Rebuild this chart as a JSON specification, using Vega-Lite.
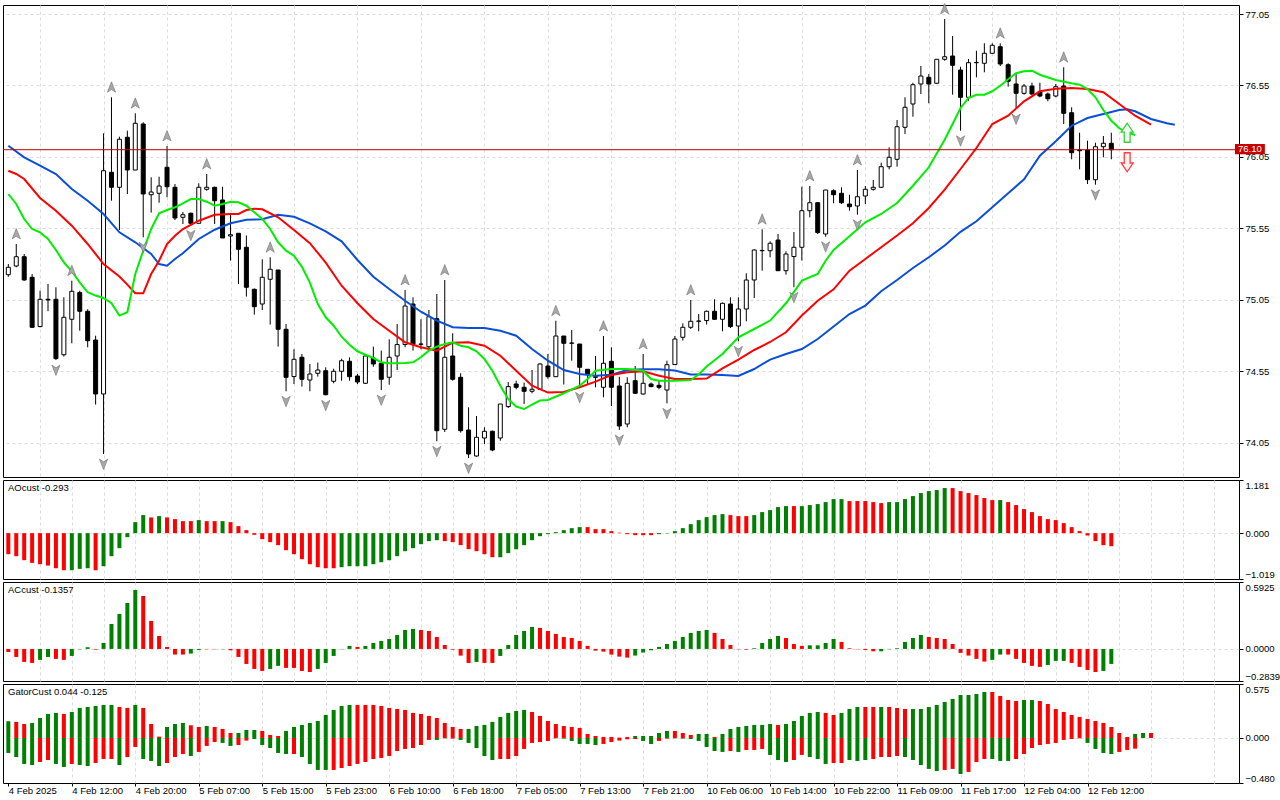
{
  "$schema": "https://vega.github.io/schema/vega-lite/v6.json",
  "padding": {"left": 2, "top": 1, "right": 0, "bottom": 0},
  "background": "white",
  "spacing": 3,
  "bounds": "flush",
  "config": {
    "view": {"stroke": "black", "strokeWidth": 1},
    "font": "Liberation Sans",
    "axis": {"labelFont": "Liberation Sans", "labelFontSize": 9.5, "labelColor": "black", "tickColor": "black", "domain": false, "gridColor": "#dcdcdc", "gridDash": [3, 3], "gridWidth": 1},
    "title": {"font": "Liberation Sans", "fontSize": 9.5, "fontWeight": "normal", "color": "black"}
  },
  "datasets": {
    "candles": [
      {"i":0,"o":75.225,"h":75.30,"l":75.21,"c":75.277},
      {"i":1,"o":75.286,"h":75.44,"l":75.277,"c":75.351},
      {"i":2,"o":75.351,"h":75.37,"l":75.183,"c":75.188},
      {"i":3,"o":75.207,"h":75.23,"l":74.852,"c":74.857},
      {"i":4,"o":74.862,"h":75.113,"l":74.857,"c":75.053},
      {"i":5,"o":75.053,"h":75.16,"l":74.97,"c":75.048},
      {"i":6,"o":75.053,"h":75.137,"l":74.628,"c":74.638},
      {"i":7,"o":74.665,"h":75.067,"l":74.652,"c":74.927},
      {"i":8,"o":74.913,"h":75.183,"l":74.745,"c":75.109},
      {"i":9,"o":75.10,"h":75.113,"l":74.833,"c":74.969},
      {"i":10,"o":74.969,"h":74.983,"l":74.717,"c":74.763},
      {"i":11,"o":74.768,"h":74.798,"l":74.316,"c":74.39},
      {"i":12,"o":74.39,"h":76.215,"l":73.97,"c":75.953},
      {"i":13,"o":75.942,"h":76.467,"l":75.743,"c":75.837},
      {"i":14,"o":75.837,"h":76.191,"l":75.538,"c":76.173},
      {"i":15,"o":76.187,"h":76.233,"l":75.79,"c":75.958},
      {"i":16,"o":75.958,"h":76.355,"l":75.958,"c":76.285},
      {"i":17,"o":76.28,"h":76.292,"l":75.487,"c":75.79},
      {"i":18,"o":75.785,"h":75.907,"l":75.66,"c":75.804},
      {"i":19,"o":75.795,"h":75.911,"l":75.729,"c":75.846},
      {"i":20,"o":75.977,"h":76.126,"l":75.767,"c":75.841},
      {"i":21,"o":75.837,"h":75.86,"l":75.608,"c":75.622},
      {"i":22,"o":75.627,"h":75.664,"l":75.58,"c":75.645},
      {"i":23,"o":75.655,"h":75.66,"l":75.571,"c":75.585},
      {"i":24,"o":75.585,"h":75.865,"l":75.585,"c":75.837},
      {"i":25,"o":75.823,"h":75.93,"l":75.813,"c":75.837},
      {"i":26,"o":75.837,"h":75.841,"l":75.58,"c":75.743},
      {"i":27,"o":75.748,"h":75.841,"l":75.482,"c":75.482},
      {"i":28,"o":75.496,"h":75.65,"l":75.324,"c":75.505},
      {"i":29,"o":75.515,"h":75.515,"l":75.16,"c":75.403},
      {"i":30,"o":75.417,"h":75.50,"l":75.072,"c":75.137},
      {"i":31,"o":75.123,"h":75.128,"l":74.946,"c":75.001},
      {"i":32,"o":75.02,"h":75.333,"l":74.978,"c":75.207},
      {"i":33,"o":75.193,"h":75.347,"l":74.876,"c":75.263},
      {"i":34,"o":75.258,"h":75.258,"l":74.722,"c":74.843},
      {"i":35,"o":74.843,"h":74.88,"l":74.409,"c":74.507},
      {"i":36,"o":74.512,"h":74.703,"l":74.46,"c":74.633},
      {"i":37,"o":74.647,"h":74.67,"l":74.442,"c":74.493},
      {"i":38,"o":74.488,"h":74.60,"l":74.409,"c":74.53},
      {"i":39,"o":74.535,"h":74.61,"l":74.512,"c":74.558},
      {"i":40,"o":74.553,"h":74.577,"l":74.381,"c":74.385},
      {"i":41,"o":74.479,"h":74.567,"l":74.465,"c":74.549},
      {"i":42,"o":74.549,"h":74.637,"l":74.483,"c":74.623},
      {"i":43,"o":74.619,"h":74.647,"l":74.483,"c":74.511},
      {"i":44,"o":74.516,"h":74.53,"l":74.46,"c":74.474},
      {"i":45,"o":74.465,"h":74.67,"l":74.46,"c":74.656},
      {"i":46,"o":74.642,"h":74.721,"l":74.581,"c":74.60},
      {"i":47,"o":74.605,"h":74.694,"l":74.418,"c":74.493},
      {"i":48,"o":74.507,"h":74.773,"l":74.455,"c":74.647},
      {"i":49,"o":74.656,"h":74.88,"l":74.558,"c":74.736},
      {"i":50,"o":74.736,"h":75.118,"l":74.717,"c":75.006},
      {"i":51,"o":75.02,"h":75.067,"l":74.694,"c":74.736},
      {"i":52,"o":74.74,"h":74.913,"l":74.703,"c":74.738},
      {"i":53,"o":74.721,"h":74.978,"l":74.698,"c":74.931},
      {"i":54,"o":74.917,"h":75.09,"l":74.059,"c":74.133},
      {"i":55,"o":74.143,"h":75.188,"l":74.124,"c":74.647},
      {"i":56,"o":74.656,"h":74.815,"l":74.483,"c":74.493},
      {"i":57,"o":74.507,"h":74.535,"l":74.12,"c":74.133},
      {"i":58,"o":74.138,"h":74.297,"l":73.942,"c":73.97},
      {"i":59,"o":73.956,"h":74.236,"l":73.951,"c":74.087},
      {"i":60,"o":74.082,"h":74.157,"l":74.04,"c":74.129},
      {"i":61,"o":74.129,"h":74.134,"l":73.989,"c":73.998},
      {"i":62,"o":74.082,"h":74.32,"l":74.063,"c":74.32},
      {"i":63,"o":74.302,"h":74.474,"l":74.292,"c":74.442},
      {"i":64,"o":74.46,"h":74.483,"l":74.423,"c":74.437},
      {"i":65,"o":74.437,"h":74.47,"l":74.32,"c":74.409},
      {"i":66,"o":74.409,"h":74.558,"l":74.395,"c":74.423},
      {"i":67,"o":74.423,"h":74.605,"l":74.423,"c":74.60},
      {"i":68,"o":74.586,"h":74.67,"l":74.497,"c":74.511},
      {"i":69,"o":74.511,"h":74.903,"l":74.511,"c":74.796},
      {"i":70,"o":74.796,"h":74.796,"l":74.456,"c":74.745},
      {"i":71,"o":74.745,"h":74.838,"l":74.623,"c":74.747},
      {"i":72,"o":74.74,"h":74.74,"l":74.437,"c":74.577},
      {"i":73,"o":74.563,"h":74.563,"l":74.46,"c":74.53},
      {"i":74,"o":74.511,"h":74.656,"l":74.437,"c":74.507},
      {"i":75,"o":74.437,"h":74.796,"l":74.367,"c":74.605},
      {"i":76,"o":74.619,"h":74.717,"l":74.306,"c":74.437},
      {"i":77,"o":74.446,"h":74.511,"l":74.138,"c":74.166},
      {"i":78,"o":74.18,"h":74.507,"l":74.157,"c":74.465},
      {"i":79,"o":74.483,"h":74.586,"l":74.39,"c":74.395},
      {"i":80,"o":74.39,"h":74.67,"l":74.385,"c":74.465},
      {"i":81,"o":74.46,"h":74.47,"l":74.437,"c":74.442},
      {"i":82,"o":74.451,"h":74.483,"l":74.423,"c":74.437},
      {"i":83,"o":74.418,"h":74.623,"l":74.325,"c":74.595},
      {"i":84,"o":74.596,"h":74.796,"l":74.596,"c":74.775},
      {"i":85,"o":74.787,"h":74.885,"l":74.764,"c":74.857},
      {"i":86,"o":74.857,"h":75.048,"l":74.845,"c":74.899},
      {"i":87,"o":74.899,"h":74.95,"l":74.829,"c":74.901},
      {"i":88,"o":74.904,"h":74.974,"l":74.876,"c":74.969},
      {"i":89,"o":74.969,"h":75.053,"l":74.908,"c":74.913},
      {"i":90,"o":74.913,"h":75.03,"l":74.829,"c":75.025},
      {"i":91,"o":75.02,"h":75.067,"l":74.852,"c":74.862},
      {"i":92,"o":74.866,"h":75.067,"l":74.759,"c":74.985},
      {"i":93,"o":74.985,"h":75.235,"l":74.899,"c":75.188},
      {"i":94,"o":75.188,"h":75.403,"l":75.062,"c":75.398},
      {"i":95,"o":75.393,"h":75.543,"l":75.253,"c":75.395},
      {"i":96,"o":75.393,"h":75.459,"l":75.347,"c":75.445},
      {"i":97,"o":75.468,"h":75.51,"l":75.253,"c":75.253},
      {"i":98,"o":75.253,"h":75.389,"l":75.225,"c":75.37},
      {"i":99,"o":75.352,"h":75.524,"l":75.137,"c":75.417},
      {"i":100,"o":75.417,"h":75.841,"l":75.324,"c":75.673},
      {"i":101,"o":75.673,"h":75.846,"l":75.627,"c":75.729},
      {"i":102,"o":75.729,"h":75.732,"l":75.51,"c":75.52},
      {"i":103,"o":75.51,"h":75.818,"l":75.491,"c":75.818},
      {"i":104,"o":75.813,"h":75.823,"l":75.725,"c":75.785},
      {"i":105,"o":75.795,"h":75.837,"l":75.72,"c":75.729},
      {"i":106,"o":75.72,"h":75.785,"l":75.673,"c":75.701},
      {"i":107,"o":75.706,"h":75.958,"l":75.645,"c":75.771},
      {"i":108,"o":75.776,"h":75.846,"l":75.72,"c":75.823},
      {"i":109,"o":75.823,"h":75.888,"l":75.813,"c":75.837},
      {"i":110,"o":75.837,"h":76.009,"l":75.832,"c":75.981},
      {"i":111,"o":75.981,"h":76.117,"l":75.963,"c":76.047},
      {"i":112,"o":76.033,"h":76.308,"l":75.981,"c":76.261},
      {"i":113,"o":76.257,"h":76.467,"l":76.21,"c":76.397},
      {"i":114,"o":76.42,"h":76.569,"l":76.331,"c":76.555},
      {"i":115,"o":76.56,"h":76.686,"l":76.49,"c":76.616},
      {"i":116,"o":76.607,"h":76.63,"l":76.425,"c":76.56},
      {"i":117,"o":76.565,"h":76.733,"l":76.56,"c":76.733},
      {"i":118,"o":76.733,"h":77.015,"l":76.723,"c":76.751},
      {"i":119,"o":76.756,"h":76.896,"l":76.485,"c":76.691},
      {"i":120,"o":76.658,"h":76.681,"l":76.233,"c":76.467},
      {"i":121,"o":76.467,"h":76.735,"l":76.443,"c":76.709},
      {"i":122,"o":76.709,"h":76.793,"l":76.607,"c":76.711},
      {"i":123,"o":76.705,"h":76.845,"l":76.642,"c":76.775},
      {"i":124,"o":76.775,"h":76.845,"l":76.77,"c":76.831},
      {"i":125,"o":76.821,"h":76.845,"l":76.686,"c":76.70},
      {"i":126,"o":76.695,"h":76.705,"l":76.541,"c":76.579},
      {"i":127,"o":76.56,"h":76.63,"l":76.385,"c":76.495},
      {"i":128,"o":76.495,"h":76.56,"l":76.485,"c":76.546},
      {"i":129,"o":76.546,"h":76.569,"l":76.481,"c":76.49},
      {"i":130,"o":76.504,"h":76.569,"l":76.467,"c":76.476},
      {"i":131,"o":76.49,"h":76.5,"l":76.439,"c":76.457},
      {"i":132,"o":76.476,"h":76.56,"l":76.467,"c":76.541},
      {"i":133,"o":76.546,"h":76.677,"l":76.28,"c":76.355},
      {"i":134,"o":76.359,"h":76.397,"l":76.033,"c":76.079},
      {"i":135,"o":76.098,"h":76.219,"l":75.963,"c":76.093},
      {"i":136,"o":76.098,"h":76.163,"l":75.86,"c":75.89},
      {"i":137,"o":75.89,"h":76.149,"l":75.855,"c":76.121},
      {"i":138,"o":76.121,"h":76.196,"l":76.047,"c":76.145},
      {"i":139,"o":76.145,"h":76.219,"l":76.033,"c":76.10}
    ],
    "lines": [
      {"i":0,"s":"jaw","v":76.128},{"i":2,"s":"jaw","v":76.047},{"i":4,"s":"jaw","v":75.988},{"i":6,"s":"jaw","v":75.93},{"i":8,"s":"jaw","v":75.825},{"i":10,"s":"jaw","v":75.743},{"i":12,"s":"jaw","v":75.65},{"i":14,"s":"jaw","v":75.522},{"i":16,"s":"jaw","v":75.452},{"i":18,"s":"jaw","v":75.37},{"i":19,"s":"jaw","v":75.30},{"i":20,"s":"jaw","v":75.288},{"i":21,"s":"jaw","v":75.335},{"i":22,"s":"jaw","v":75.375},{"i":24,"s":"jaw","v":75.475},{"i":26,"s":"jaw","v":75.54},{"i":28,"s":"jaw","v":75.585},{"i":30,"s":"jaw","v":75.61},{"i":32,"s":"jaw","v":75.613},{"i":34,"s":"jaw","v":75.645},{"i":36,"s":"jaw","v":75.631},{"i":38,"s":"jaw","v":75.585},{"i":40,"s":"jaw","v":75.529},{"i":42,"s":"jaw","v":75.459},{"i":44,"s":"jaw","v":75.328},{"i":46,"s":"jaw","v":75.211},{"i":48,"s":"jaw","v":75.125},{"i":50,"s":"jaw","v":75.043},{"i":52,"s":"jaw","v":74.966},{"i":54,"s":"jaw","v":74.903},{"i":56,"s":"jaw","v":74.857},{"i":58,"s":"jaw","v":74.852},{"i":60,"s":"jaw","v":74.852},{"i":62,"s":"jaw","v":74.833},{"i":64,"s":"jaw","v":74.798},{"i":66,"s":"jaw","v":74.705},{"i":68,"s":"jaw","v":74.623},{"i":70,"s":"jaw","v":74.558},{"i":72,"s":"jaw","v":74.53},{"i":74,"s":"jaw","v":74.518},{"i":76,"s":"jaw","v":74.525},{"i":78,"s":"jaw","v":74.558},{"i":80,"s":"jaw","v":74.563},{"i":82,"s":"jaw","v":74.563},{"i":84,"s":"jaw","v":74.555},{"i":86,"s":"jaw","v":74.526},{"i":88,"s":"jaw","v":74.526},{"i":90,"s":"jaw","v":74.523},{"i":92,"s":"jaw","v":74.516},{"i":94,"s":"jaw","v":74.565},{"i":96,"s":"jaw","v":74.631},{"i":98,"s":"jaw","v":74.67},{"i":100,"s":"jaw","v":74.705},{"i":102,"s":"jaw","v":74.775},{"i":104,"s":"jaw","v":74.862},{"i":106,"s":"jaw","v":74.95},{"i":108,"s":"jaw","v":75.009},{"i":110,"s":"jaw","v":75.109},{"i":112,"s":"jaw","v":75.188},{"i":114,"s":"jaw","v":75.272},{"i":116,"s":"jaw","v":75.347},{"i":118,"s":"jaw","v":75.43},{"i":120,"s":"jaw","v":75.525},{"i":122,"s":"jaw","v":75.599},{"i":124,"s":"jaw","v":75.697},{"i":126,"s":"jaw","v":75.795},{"i":128,"s":"jaw","v":75.893},{"i":130,"s":"jaw","v":76.058},{"i":132,"s":"jaw","v":76.159},{"i":134,"s":"jaw","v":76.268},{"i":136,"s":"jaw","v":76.322},{"i":138,"s":"jaw","v":76.35},{"i":140,"s":"jaw","v":76.378},{"i":141,"s":"jaw","v":76.383},{"i":142,"s":"jaw","v":76.369},{"i":144,"s":"jaw","v":76.315},{"i":146,"s":"jaw","v":76.285},{"i":147,"s":"jaw","v":76.275},
      {"i":0,"s":"teeth","v":75.953},{"i":1,"s":"teeth","v":75.93},{"i":2,"s":"teeth","v":75.895},{"i":4,"s":"teeth","v":75.762},{"i":6,"s":"teeth","v":75.673},{"i":8,"s":"teeth","v":75.568},{"i":10,"s":"teeth","v":75.44},{"i":12,"s":"teeth","v":75.30},{"i":14,"s":"teeth","v":75.212},{"i":15,"s":"teeth","v":75.156},{"i":16,"s":"teeth","v":75.095},{"i":17,"s":"teeth","v":75.095},{"i":18,"s":"teeth","v":75.23},{"i":19,"s":"teeth","v":75.323},{"i":20,"s":"teeth","v":75.44},{"i":21,"s":"teeth","v":75.498},{"i":22,"s":"teeth","v":75.545},{"i":24,"s":"teeth","v":75.603},{"i":26,"s":"teeth","v":75.645},{"i":28,"s":"teeth","v":75.65},{"i":29,"s":"teeth","v":75.65},{"i":30,"s":"teeth","v":75.678},{"i":31,"s":"teeth","v":75.687},{"i":32,"s":"teeth","v":75.683},{"i":34,"s":"teeth","v":75.627},{"i":36,"s":"teeth","v":75.538},{"i":38,"s":"teeth","v":75.446},{"i":40,"s":"teeth","v":75.31},{"i":42,"s":"teeth","v":75.148},{"i":44,"s":"teeth","v":75.025},{"i":46,"s":"teeth","v":74.915},{"i":48,"s":"teeth","v":74.833},{"i":50,"s":"teeth","v":74.752},{"i":52,"s":"teeth","v":74.717},{"i":54,"s":"teeth","v":74.693},{"i":56,"s":"teeth","v":74.749},{"i":58,"s":"teeth","v":74.752},{"i":60,"s":"teeth","v":74.728},{"i":62,"s":"teeth","v":74.658},{"i":64,"s":"teeth","v":74.553},{"i":66,"s":"teeth","v":74.448},{"i":68,"s":"teeth","v":74.40},{"i":70,"s":"teeth","v":74.404},{"i":72,"s":"teeth","v":74.437},{"i":74,"s":"teeth","v":74.477},{"i":76,"s":"teeth","v":74.523},{"i":78,"s":"teeth","v":74.542},{"i":80,"s":"teeth","v":74.549},{"i":82,"s":"teeth","v":74.518},{"i":84,"s":"teeth","v":74.495},{"i":86,"s":"teeth","v":74.495},{"i":88,"s":"teeth","v":74.498},{"i":90,"s":"teeth","v":74.57},{"i":92,"s":"teeth","v":74.631},{"i":94,"s":"teeth","v":74.698},{"i":96,"s":"teeth","v":74.754},{"i":98,"s":"teeth","v":74.822},{"i":100,"s":"teeth","v":74.939},{"i":102,"s":"teeth","v":75.043},{"i":104,"s":"teeth","v":75.123},{"i":106,"s":"teeth","v":75.253},{"i":108,"s":"teeth","v":75.335},{"i":110,"s":"teeth","v":75.417},{"i":112,"s":"teeth","v":75.499},{"i":114,"s":"teeth","v":75.585},{"i":116,"s":"teeth","v":75.692},{"i":118,"s":"teeth","v":75.82},{"i":120,"s":"teeth","v":75.965},{"i":122,"s":"teeth","v":76.112},{"i":124,"s":"teeth","v":76.28},{"i":126,"s":"teeth","v":76.338},{"i":128,"s":"teeth","v":76.439},{"i":130,"s":"teeth","v":76.509},{"i":132,"s":"teeth","v":76.527},{"i":134,"s":"teeth","v":76.532},{"i":136,"s":"teeth","v":76.525},{"i":138,"s":"teeth","v":76.502},{"i":140,"s":"teeth","v":76.42},{"i":142,"s":"teeth","v":76.338},{"i":144,"s":"teeth","v":76.275},
      {"i":0,"s":"lips","v":75.79},{"i":1,"s":"lips","v":75.72},{"i":2,"s":"lips","v":75.615},{"i":3,"s":"lips","v":75.545},{"i":4,"s":"lips","v":75.522},{"i":5,"s":"lips","v":75.475},{"i":6,"s":"lips","v":75.398},{"i":7,"s":"lips","v":75.312},{"i":8,"s":"lips","v":75.249},{"i":9,"s":"lips","v":75.172},{"i":10,"s":"lips","v":75.102},{"i":11,"s":"lips","v":75.079},{"i":12,"s":"lips","v":75.062},{"i":13,"s":"lips","v":75.025},{"i":14,"s":"lips","v":74.939},{"i":15,"s":"lips","v":74.962},{"i":16,"s":"lips","v":75.23},{"i":17,"s":"lips","v":75.393},{"i":18,"s":"lips","v":75.545},{"i":19,"s":"lips","v":75.655},{"i":20,"s":"lips","v":75.678},{"i":21,"s":"lips","v":75.697},{"i":22,"s":"lips","v":75.725},{"i":23,"s":"lips","v":75.755},{"i":24,"s":"lips","v":75.755},{"i":25,"s":"lips","v":75.736},{"i":26,"s":"lips","v":75.708},{"i":27,"s":"lips","v":75.72},{"i":28,"s":"lips","v":75.736},{"i":29,"s":"lips","v":75.732},{"i":30,"s":"lips","v":75.708},{"i":31,"s":"lips","v":75.662},{"i":32,"s":"lips","v":75.615},{"i":33,"s":"lips","v":75.545},{"i":34,"s":"lips","v":75.452},{"i":35,"s":"lips","v":75.393},{"i":36,"s":"lips","v":75.358},{"i":37,"s":"lips","v":75.28},{"i":38,"s":"lips","v":75.17},{"i":39,"s":"lips","v":75.02},{"i":40,"s":"lips","v":74.927},{"i":41,"s":"lips","v":74.868},{"i":42,"s":"lips","v":74.791},{"i":43,"s":"lips","v":74.735},{"i":44,"s":"lips","v":74.689},{"i":45,"s":"lips","v":74.665},{"i":46,"s":"lips","v":74.642},{"i":47,"s":"lips","v":74.612},{"i":48,"s":"lips","v":74.605},{"i":49,"s":"lips","v":74.605},{"i":50,"s":"lips","v":74.607},{"i":51,"s":"lips","v":74.612},{"i":52,"s":"lips","v":74.647},{"i":53,"s":"lips","v":74.693},{"i":54,"s":"lips","v":74.721},{"i":55,"s":"lips","v":74.74},{"i":56,"s":"lips","v":74.752},{"i":57,"s":"lips","v":74.728},{"i":58,"s":"lips","v":74.717},{"i":59,"s":"lips","v":74.689},{"i":60,"s":"lips","v":74.635},{"i":61,"s":"lips","v":74.553},{"i":62,"s":"lips","v":74.448},{"i":63,"s":"lips","v":74.355},{"i":64,"s":"lips","v":74.302},{"i":65,"s":"lips","v":74.285},{"i":66,"s":"lips","v":74.316},{"i":67,"s":"lips","v":74.344},{"i":68,"s":"lips","v":74.348},{"i":70,"s":"lips","v":74.395},{"i":72,"s":"lips","v":74.448},{"i":73,"s":"lips","v":74.495},{"i":74,"s":"lips","v":74.553},{"i":76,"s":"lips","v":74.565},{"i":78,"s":"lips","v":74.565},{"i":80,"s":"lips","v":74.553},{"i":81,"s":"lips","v":74.495},{"i":82,"s":"lips","v":74.483},{"i":84,"s":"lips","v":74.483},{"i":86,"s":"lips","v":74.488},{"i":87,"s":"lips","v":74.526},{"i":88,"s":"lips","v":74.582},{"i":90,"s":"lips","v":74.67},{"i":92,"s":"lips","v":74.787},{"i":94,"s":"lips","v":74.845},{"i":96,"s":"lips","v":74.904},{"i":98,"s":"lips","v":75.025},{"i":100,"s":"lips","v":75.184},{"i":102,"s":"lips","v":75.23},{"i":103,"s":"lips","v":75.323},{"i":104,"s":"lips","v":75.398},{"i":106,"s":"lips","v":75.494},{"i":108,"s":"lips","v":75.592},{"i":110,"s":"lips","v":75.65},{"i":112,"s":"lips","v":75.727},{"i":114,"s":"lips","v":75.848},{"i":116,"s":"lips","v":75.977},{"i":118,"s":"lips","v":76.17},{"i":119,"s":"lips","v":76.28},{"i":120,"s":"lips","v":76.392},{"i":121,"s":"lips","v":76.462},{"i":122,"s":"lips","v":76.485},{"i":123,"s":"lips","v":76.485},{"i":124,"s":"lips","v":76.509},{"i":125,"s":"lips","v":76.548},{"i":126,"s":"lips","v":76.593},{"i":127,"s":"lips","v":76.635},{"i":128,"s":"lips","v":76.649},{"i":129,"s":"lips","v":76.653},{"i":130,"s":"lips","v":76.625},{"i":132,"s":"lips","v":76.588},{"i":134,"s":"lips","v":76.565},{"i":135,"s":"lips","v":76.555},{"i":136,"s":"lips","v":76.525},{"i":137,"s":"lips","v":76.467},{"i":138,"s":"lips","v":76.378},{"i":139,"s":"lips","v":76.303},{"i":140,"s":"lips","v":76.25},{"i":141,"s":"lips","v":76.222},{"i":142,"s":"lips","v":76.203}
    ],
    "fractals": [
      {"i":1,"t":"up","p":75.44},{"i":8,"t":"up","p":75.183},{"i":13,"t":"up","p":76.467},{"i":16,"t":"up","p":76.355},{"i":20,"t":"up","p":76.126},{"i":25,"t":"up","p":75.93},{"i":33,"t":"up","p":75.347},{"i":50,"t":"up","p":75.118},{"i":55,"t":"up","p":75.188},{"i":69,"t":"up","p":74.903},{"i":75,"t":"up","p":74.796},{"i":80,"t":"up","p":74.67},{"i":86,"t":"up","p":75.048},{"i":95,"t":"up","p":75.543},{"i":101,"t":"up","p":75.846},{"i":107,"t":"up","p":75.958},{"i":118,"t":"up","p":77.015},{"i":125,"t":"up","p":76.845},{"i":133,"t":"up","p":76.677},
      {"i":6,"t":"down","p":74.628},{"i":12,"t":"down","p":73.97},{"i":17,"t":"down","p":75.487},{"i":23,"t":"down","p":75.571},{"i":35,"t":"down","p":74.409},{"i":40,"t":"down","p":74.381},{"i":47,"t":"down","p":74.418},{"i":54,"t":"down","p":74.059},{"i":58,"t":"down","p":73.942},{"i":72,"t":"down","p":74.437},{"i":77,"t":"down","p":74.138},{"i":83,"t":"down","p":74.325},{"i":92,"t":"down","p":74.759},{"i":99,"t":"down","p":75.137},{"i":103,"t":"down","p":75.491},{"i":107,"t":"down","p":75.645},{"i":120,"t":"down","p":76.233},{"i":127,"t":"down","p":76.385},{"i":137,"t":"down","p":75.855}
    ],
    "signals": [
      {"i":141,"t":"buy","p":76.217},
      {"i":141,"t":"sell","p":76.014}
    ],
    "ao": [
      {"i":0,"v":-0.468,"dir":"d"},{"i":1,"v":-0.512,"dir":"d"},{"i":2,"v":-0.601,"dir":"d"},{"i":3,"v":-0.661,"dir":"d"},{"i":4,"v":-0.69,"dir":"d"},{"i":5,"v":-0.72,"dir":"d"},{"i":6,"v":-0.78,"dir":"d"},{"i":7,"v":-0.824,"dir":"d"},{"i":8,"v":-0.824,"dir":"g"},{"i":9,"v":-0.794,"dir":"g"},{"i":10,"v":-0.78,"dir":"g"},{"i":11,"v":-0.824,"dir":"d"},{"i":12,"v":-0.735,"dir":"g"},{"i":13,"v":-0.512,"dir":"g"},{"i":14,"v":-0.334,"dir":"g"},{"i":15,"v":-0.089,"dir":"g"},{"i":16,"v":0.245,"dir":"g"},{"i":17,"v":0.401,"dir":"g"},{"i":18,"v":0.349,"dir":"d"},{"i":19,"v":0.379,"dir":"g"},{"i":20,"v":0.349,"dir":"d"},{"i":21,"v":0.312,"dir":"d"},{"i":22,"v":0.267,"dir":"d"},{"i":23,"v":0.267,"dir":"d"},{"i":24,"v":0.29,"dir":"g"},{"i":25,"v":0.267,"dir":"d"},{"i":26,"v":0.267,"dir":"d"},{"i":27,"v":0.267,"dir":"g"},{"i":28,"v":0.245,"dir":"d"},{"i":29,"v":0.156,"dir":"d"},{"i":30,"v":0.067,"dir":"d"},{"i":31,"v":-0.037,"dir":"d"},{"i":32,"v":-0.134,"dir":"d"},{"i":33,"v":-0.2,"dir":"d"},{"i":34,"v":-0.267,"dir":"d"},{"i":35,"v":-0.379,"dir":"d"},{"i":36,"v":-0.468,"dir":"d"},{"i":37,"v":-0.579,"dir":"d"},{"i":38,"v":-0.69,"dir":"d"},{"i":39,"v":-0.757,"dir":"d"},{"i":40,"v":-0.78,"dir":"d"},{"i":41,"v":-0.78,"dir":"d"},{"i":42,"v":-0.757,"dir":"g"},{"i":43,"v":-0.735,"dir":"g"},{"i":44,"v":-0.735,"dir":"g"},{"i":45,"v":-0.735,"dir":"g"},{"i":46,"v":-0.69,"dir":"g"},{"i":47,"v":-0.646,"dir":"g"},{"i":48,"v":-0.601,"dir":"g"},{"i":49,"v":-0.512,"dir":"g"},{"i":50,"v":-0.401,"dir":"g"},{"i":51,"v":-0.334,"dir":"g"},{"i":52,"v":-0.245,"dir":"g"},{"i":53,"v":-0.178,"dir":"g"},{"i":54,"v":-0.156,"dir":"g"},{"i":55,"v":-0.178,"dir":"d"},{"i":56,"v":-0.2,"dir":"d"},{"i":57,"v":-0.267,"dir":"d"},{"i":58,"v":-0.356,"dir":"d"},{"i":59,"v":-0.401,"dir":"d"},{"i":60,"v":-0.468,"dir":"d"},{"i":61,"v":-0.535,"dir":"d"},{"i":62,"v":-0.535,"dir":"g"},{"i":63,"v":-0.445,"dir":"g"},{"i":64,"v":-0.356,"dir":"g"},{"i":65,"v":-0.267,"dir":"g"},{"i":66,"v":-0.156,"dir":"g"},{"i":67,"v":-0.067,"dir":"g"},{"i":68,"v":-0.022,"dir":"g"},{"i":69,"v":0.022,"dir":"g"},{"i":70,"v":0.067,"dir":"g"},{"i":71,"v":0.111,"dir":"g"},{"i":72,"v":0.134,"dir":"g"},{"i":73,"v":0.134,"dir":"d"},{"i":74,"v":0.089,"dir":"d"},{"i":75,"v":0.089,"dir":"d"},{"i":76,"v":0.045,"dir":"d"},{"i":77,"v":0.01,"dir":"d"},{"i":78,"v":-0.022,"dir":"d"},{"i":79,"v":-0.045,"dir":"d"},{"i":80,"v":-0.045,"dir":"d"},{"i":81,"v":-0.045,"dir":"d"},{"i":82,"v":-0.022,"dir":"g"},{"i":83,"v":-0.007,"dir":"g"},{"i":84,"v":0.045,"dir":"g"},{"i":85,"v":0.111,"dir":"g"},{"i":86,"v":0.2,"dir":"g"},{"i":87,"v":0.29,"dir":"g"},{"i":88,"v":0.356,"dir":"g"},{"i":89,"v":0.401,"dir":"g"},{"i":90,"v":0.423,"dir":"g"},{"i":91,"v":0.401,"dir":"d"},{"i":92,"v":0.379,"dir":"d"},{"i":93,"v":0.379,"dir":"d"},{"i":94,"v":0.401,"dir":"g"},{"i":95,"v":0.468,"dir":"g"},{"i":96,"v":0.512,"dir":"g"},{"i":97,"v":0.579,"dir":"g"},{"i":98,"v":0.601,"dir":"g"},{"i":99,"v":0.601,"dir":"d"},{"i":100,"v":0.601,"dir":"g"},{"i":101,"v":0.624,"dir":"g"},{"i":102,"v":0.646,"dir":"g"},{"i":103,"v":0.69,"dir":"g"},{"i":104,"v":0.757,"dir":"g"},{"i":105,"v":0.757,"dir":"g"},{"i":106,"v":0.713,"dir":"d"},{"i":107,"v":0.713,"dir":"d"},{"i":108,"v":0.713,"dir":"d"},{"i":109,"v":0.69,"dir":"d"},{"i":110,"v":0.668,"dir":"d"},{"i":111,"v":0.69,"dir":"g"},{"i":112,"v":0.69,"dir":"g"},{"i":113,"v":0.757,"dir":"g"},{"i":114,"v":0.824,"dir":"g"},{"i":115,"v":0.891,"dir":"g"},{"i":116,"v":0.935,"dir":"g"},{"i":117,"v":0.958,"dir":"g"},{"i":118,"v":1.002,"dir":"g"},{"i":119,"v":1.002,"dir":"d"},{"i":120,"v":0.935,"dir":"d"},{"i":121,"v":0.891,"dir":"d"},{"i":122,"v":0.846,"dir":"d"},{"i":123,"v":0.78,"dir":"d"},{"i":124,"v":0.735,"dir":"d"},{"i":125,"v":0.735,"dir":"g"},{"i":126,"v":0.69,"dir":"d"},{"i":127,"v":0.624,"dir":"d"},{"i":128,"v":0.535,"dir":"d"},{"i":129,"v":0.468,"dir":"d"},{"i":130,"v":0.379,"dir":"d"},{"i":131,"v":0.312,"dir":"d"},{"i":132,"v":0.29,"dir":"d"},{"i":133,"v":0.223,"dir":"d"},{"i":134,"v":0.134,"dir":"d"},{"i":135,"v":0.045,"dir":"d"},{"i":136,"v":-0.052,"dir":"d"},{"i":137,"v":-0.178,"dir":"d"},{"i":138,"v":-0.267,"dir":"d"},{"i":139,"v":-0.29,"dir":"d"}
    ],
    "ac": [
      {"i":0,"v":-0.027,"dir":"d"},{"i":1,"v":-0.071,"dir":"d"},{"i":2,"v":-0.115,"dir":"d"},{"i":3,"v":-0.124,"dir":"d"},{"i":4,"v":-0.097,"dir":"g"},{"i":5,"v":-0.071,"dir":"g"},{"i":6,"v":-0.088,"dir":"d"},{"i":7,"v":-0.097,"dir":"d"},{"i":8,"v":-0.062,"dir":"g"},{"i":9,"v":-0.003,"dir":"g"},{"i":10,"v":0.015,"dir":"g"},{"i":11,"v":-0.006,"dir":"d"},{"i":12,"v":0.053,"dir":"g"},{"i":13,"v":0.221,"dir":"g"},{"i":14,"v":0.31,"dir":"g"},{"i":15,"v":0.407,"dir":"g"},{"i":16,"v":0.522,"dir":"g"},{"i":17,"v":0.469,"dir":"d"},{"i":18,"v":0.248,"dir":"d"},{"i":19,"v":0.115,"dir":"d"},{"i":20,"v":0.018,"dir":"d"},{"i":21,"v":-0.05,"dir":"d"},{"i":22,"v":-0.05,"dir":"d"},{"i":23,"v":-0.041,"dir":"g"},{"i":24,"v":-0.009,"dir":"g"},{"i":25,"v":-0.003,"dir":"d"},{"i":26,"v":-0.003,"dir":"d"},{"i":27,"v":-0.003,"dir":"g"},{"i":28,"v":-0.012,"dir":"d"},{"i":29,"v":-0.071,"dir":"d"},{"i":30,"v":-0.133,"dir":"d"},{"i":31,"v":-0.177,"dir":"d"},{"i":32,"v":-0.195,"dir":"d"},{"i":33,"v":-0.177,"dir":"g"},{"i":34,"v":-0.15,"dir":"g"},{"i":35,"v":-0.168,"dir":"d"},{"i":36,"v":-0.168,"dir":"d"},{"i":37,"v":-0.195,"dir":"d"},{"i":38,"v":-0.204,"dir":"d"},{"i":39,"v":-0.177,"dir":"g"},{"i":40,"v":-0.124,"dir":"g"},{"i":41,"v":-0.062,"dir":"g"},{"i":42,"v":-0.003,"dir":"g"},{"i":43,"v":0.027,"dir":"g"},{"i":44,"v":0.018,"dir":"d"},{"i":45,"v":0.027,"dir":"g"},{"i":46,"v":0.053,"dir":"g"},{"i":47,"v":0.071,"dir":"g"},{"i":48,"v":0.088,"dir":"g"},{"i":49,"v":0.124,"dir":"g"},{"i":50,"v":0.168,"dir":"g"},{"i":51,"v":0.177,"dir":"g"},{"i":52,"v":0.168,"dir":"d"},{"i":53,"v":0.159,"dir":"d"},{"i":54,"v":0.106,"dir":"d"},{"i":55,"v":0.035,"dir":"d"},{"i":56,"v":-0.006,"dir":"d"},{"i":57,"v":-0.059,"dir":"d"},{"i":58,"v":-0.124,"dir":"d"},{"i":59,"v":-0.115,"dir":"g"},{"i":60,"v":-0.124,"dir":"d"},{"i":61,"v":-0.124,"dir":"d"},{"i":62,"v":-0.062,"dir":"g"},{"i":63,"v":0.035,"dir":"g"},{"i":64,"v":0.124,"dir":"g"},{"i":65,"v":0.159,"dir":"g"},{"i":66,"v":0.195,"dir":"g"},{"i":67,"v":0.186,"dir":"d"},{"i":68,"v":0.159,"dir":"d"},{"i":69,"v":0.133,"dir":"d"},{"i":70,"v":0.106,"dir":"d"},{"i":71,"v":0.097,"dir":"d"},{"i":72,"v":0.071,"dir":"d"},{"i":73,"v":0.027,"dir":"d"},{"i":74,"v":-0.015,"dir":"d"},{"i":75,"v":-0.024,"dir":"d"},{"i":76,"v":-0.05,"dir":"d"},{"i":77,"v":-0.068,"dir":"d"},{"i":78,"v":-0.077,"dir":"d"},{"i":79,"v":-0.059,"dir":"g"},{"i":80,"v":-0.032,"dir":"g"},{"i":81,"v":-0.012,"dir":"g"},{"i":82,"v":0.018,"dir":"g"},{"i":83,"v":0.044,"dir":"g"},{"i":84,"v":0.071,"dir":"g"},{"i":85,"v":0.106,"dir":"g"},{"i":86,"v":0.142,"dir":"g"},{"i":87,"v":0.159,"dir":"g"},{"i":88,"v":0.168,"dir":"g"},{"i":89,"v":0.142,"dir":"d"},{"i":90,"v":0.088,"dir":"d"},{"i":91,"v":0.035,"dir":"d"},{"i":92,"v":-0.003,"dir":"d"},{"i":93,"v":-0.006,"dir":"d"},{"i":94,"v":0.006,"dir":"g"},{"i":95,"v":0.053,"dir":"g"},{"i":96,"v":0.088,"dir":"g"},{"i":97,"v":0.115,"dir":"g"},{"i":98,"v":0.097,"dir":"d"},{"i":99,"v":0.044,"dir":"d"},{"i":100,"v":0.027,"dir":"d"},{"i":101,"v":0.032,"dir":"g"},{"i":102,"v":0.032,"dir":"g"},{"i":103,"v":0.053,"dir":"g"},{"i":104,"v":0.088,"dir":"g"},{"i":105,"v":0.062,"dir":"d"},{"i":106,"v":0.006,"dir":"d"},{"i":107,"v":-0.003,"dir":"d"},{"i":108,"v":-0.009,"dir":"d"},{"i":109,"v":-0.021,"dir":"d"},{"i":110,"v":-0.021,"dir":"g"},{"i":111,"v":-0.003,"dir":"g"},{"i":112,"v":0.006,"dir":"g"},{"i":113,"v":0.062,"dir":"g"},{"i":114,"v":0.097,"dir":"g"},{"i":115,"v":0.124,"dir":"g"},{"i":116,"v":0.106,"dir":"d"},{"i":117,"v":0.097,"dir":"d"},{"i":118,"v":0.088,"dir":"d"},{"i":119,"v":0.044,"dir":"d"},{"i":120,"v":-0.035,"dir":"d"},{"i":121,"v":-0.059,"dir":"d"},{"i":122,"v":-0.088,"dir":"d"},{"i":123,"v":-0.112,"dir":"d"},{"i":124,"v":-0.097,"dir":"g"},{"i":125,"v":-0.05,"dir":"g"},{"i":126,"v":-0.05,"dir":"d"},{"i":127,"v":-0.088,"dir":"d"},{"i":128,"v":-0.124,"dir":"d"},{"i":129,"v":-0.15,"dir":"d"},{"i":130,"v":-0.159,"dir":"d"},{"i":131,"v":-0.142,"dir":"g"},{"i":132,"v":-0.106,"dir":"g"},{"i":133,"v":-0.106,"dir":"g"},{"i":134,"v":-0.124,"dir":"d"},{"i":135,"v":-0.159,"dir":"d"},{"i":136,"v":-0.186,"dir":"d"},{"i":137,"v":-0.204,"dir":"d"},{"i":138,"v":-0.195,"dir":"g"},{"i":139,"v":-0.133,"dir":"g"}
    ],
    "gatorUp": [
      {"i":0,"v":0.178,"dir":"g"},{"i":1,"v":0.171,"dir":"d"},{"i":2,"v":0.149,"dir":"d"},{"i":3,"v":0.16,"dir":"g"},{"i":4,"v":0.213,"dir":"g"},{"i":5,"v":0.256,"dir":"g"},{"i":6,"v":0.267,"dir":"g"},{"i":7,"v":0.256,"dir":"d"},{"i":8,"v":0.277,"dir":"g"},{"i":9,"v":0.32,"dir":"g"},{"i":10,"v":0.33,"dir":"g"},{"i":11,"v":0.341,"dir":"g"},{"i":12,"v":0.352,"dir":"g"},{"i":13,"v":0.352,"dir":"g"},{"i":14,"v":0.33,"dir":"d"},{"i":15,"v":0.32,"dir":"d"},{"i":16,"v":0.352,"dir":"g"},{"i":17,"v":0.32,"dir":"d"},{"i":18,"v":0.149,"dir":"d"},{"i":19,"v":0.014,"dir":"d"},{"i":20,"v":0.117,"dir":"g"},{"i":21,"v":0.149,"dir":"g"},{"i":22,"v":0.16,"dir":"g"},{"i":23,"v":0.135,"dir":"d"},{"i":24,"v":0.117,"dir":"d"},{"i":25,"v":0.128,"dir":"g"},{"i":26,"v":0.117,"dir":"d"},{"i":27,"v":0.096,"dir":"d"},{"i":28,"v":0.053,"dir":"d"},{"i":29,"v":0.053,"dir":"g"},{"i":30,"v":0.085,"dir":"g"},{"i":31,"v":0.085,"dir":"g"},{"i":32,"v":0.075,"dir":"d"},{"i":33,"v":0.032,"dir":"d"},{"i":34,"v":0.021,"dir":"d"},{"i":35,"v":0.075,"dir":"g"},{"i":36,"v":0.117,"dir":"g"},{"i":37,"v":0.139,"dir":"g"},{"i":38,"v":0.16,"dir":"g"},{"i":39,"v":0.181,"dir":"g"},{"i":40,"v":0.245,"dir":"g"},{"i":41,"v":0.299,"dir":"g"},{"i":42,"v":0.341,"dir":"g"},{"i":43,"v":0.352,"dir":"g"},{"i":44,"v":0.352,"dir":"d"},{"i":45,"v":0.352,"dir":"d"},{"i":46,"v":0.352,"dir":"d"},{"i":47,"v":0.341,"dir":"d"},{"i":48,"v":0.32,"dir":"d"},{"i":49,"v":0.309,"dir":"d"},{"i":50,"v":0.299,"dir":"d"},{"i":51,"v":0.267,"dir":"d"},{"i":52,"v":0.256,"dir":"d"},{"i":53,"v":0.235,"dir":"d"},{"i":54,"v":0.213,"dir":"d"},{"i":55,"v":0.16,"dir":"d"},{"i":56,"v":0.117,"dir":"d"},{"i":57,"v":0.096,"dir":"d"},{"i":58,"v":0.096,"dir":"g"},{"i":59,"v":0.128,"dir":"g"},{"i":60,"v":0.139,"dir":"g"},{"i":61,"v":0.171,"dir":"g"},{"i":62,"v":0.224,"dir":"g"},{"i":63,"v":0.267,"dir":"g"},{"i":64,"v":0.288,"dir":"g"},{"i":65,"v":0.299,"dir":"g"},{"i":66,"v":0.277,"dir":"d"},{"i":67,"v":0.235,"dir":"d"},{"i":68,"v":0.181,"dir":"d"},{"i":69,"v":0.149,"dir":"d"},{"i":70,"v":0.128,"dir":"d"},{"i":71,"v":0.117,"dir":"d"},{"i":72,"v":0.107,"dir":"d"},{"i":73,"v":0.043,"dir":"d"},{"i":74,"v":0.021,"dir":"d"},{"i":75,"v":0.011,"dir":"d"},{"i":76,"v":0.011,"dir":"d"},{"i":77,"v":0.004,"dir":"d"},{"i":78,"v":0.011,"dir":"d"},{"i":79,"v":0.021,"dir":"g"},{"i":80,"v":0.021,"dir":"g"},{"i":81,"v":0.021,"dir":"g"},{"i":82,"v":0.053,"dir":"g"},{"i":83,"v":0.075,"dir":"g"},{"i":84,"v":0.075,"dir":"d"},{"i":85,"v":0.053,"dir":"d"},{"i":86,"v":0.032,"dir":"d"},{"i":87,"v":0.043,"dir":"g"},{"i":88,"v":0.043,"dir":"g"},{"i":89,"v":0.011,"dir":"d"},{"i":90,"v":0.043,"dir":"g"},{"i":91,"v":0.096,"dir":"g"},{"i":92,"v":0.117,"dir":"g"},{"i":93,"v":0.128,"dir":"g"},{"i":94,"v":0.139,"dir":"g"},{"i":95,"v":0.139,"dir":"g"},{"i":96,"v":0.149,"dir":"g"},{"i":97,"v":0.139,"dir":"d"},{"i":98,"v":0.149,"dir":"g"},{"i":99,"v":0.181,"dir":"g"},{"i":100,"v":0.235,"dir":"g"},{"i":101,"v":0.267,"dir":"g"},{"i":102,"v":0.277,"dir":"g"},{"i":103,"v":0.267,"dir":"d"},{"i":104,"v":0.245,"dir":"d"},{"i":105,"v":0.267,"dir":"g"},{"i":106,"v":0.309,"dir":"g"},{"i":107,"v":0.33,"dir":"g"},{"i":108,"v":0.33,"dir":"d"},{"i":109,"v":0.33,"dir":"d"},{"i":110,"v":0.33,"dir":"g"},{"i":111,"v":0.33,"dir":"d"},{"i":112,"v":0.32,"dir":"d"},{"i":113,"v":0.309,"dir":"d"},{"i":114,"v":0.309,"dir":"g"},{"i":115,"v":0.309,"dir":"g"},{"i":116,"v":0.33,"dir":"g"},{"i":117,"v":0.352,"dir":"g"},{"i":118,"v":0.384,"dir":"g"},{"i":119,"v":0.416,"dir":"g"},{"i":120,"v":0.458,"dir":"g"},{"i":121,"v":0.458,"dir":"g"},{"i":122,"v":0.469,"dir":"g"},{"i":123,"v":0.49,"dir":"g"},{"i":124,"v":0.49,"dir":"d"},{"i":125,"v":0.448,"dir":"d"},{"i":126,"v":0.405,"dir":"d"},{"i":127,"v":0.394,"dir":"d"},{"i":128,"v":0.405,"dir":"g"},{"i":129,"v":0.405,"dir":"g"},{"i":130,"v":0.394,"dir":"d"},{"i":131,"v":0.362,"dir":"d"},{"i":132,"v":0.309,"dir":"d"},{"i":133,"v":0.277,"dir":"d"},{"i":134,"v":0.245,"dir":"d"},{"i":135,"v":0.224,"dir":"d"},{"i":136,"v":0.203,"dir":"d"},{"i":137,"v":0.181,"dir":"d"},{"i":138,"v":0.16,"dir":"d"},{"i":139,"v":0.117,"dir":"d"},{"i":140,"v":0.053,"dir":"d"},{"i":141,"v":0.011,"dir":"d"},{"i":142,"v":0.043,"dir":"g"},{"i":143,"v":0.053,"dir":"g"},{"i":144,"v":0.053,"dir":"d"}
    ],
    "gatorDown": [
      {"i":0,"v":-0.16,"dir":"g"},{"i":1,"v":-0.203,"dir":"g"},{"i":2,"v":-0.277,"dir":"g"},{"i":3,"v":-0.288,"dir":"g"},{"i":4,"v":-0.256,"dir":"d"},{"i":5,"v":-0.235,"dir":"d"},{"i":6,"v":-0.277,"dir":"g"},{"i":7,"v":-0.309,"dir":"g"},{"i":8,"v":-0.277,"dir":"d"},{"i":9,"v":-0.288,"dir":"g"},{"i":10,"v":-0.299,"dir":"g"},{"i":11,"v":-0.267,"dir":"d"},{"i":12,"v":-0.224,"dir":"d"},{"i":13,"v":-0.224,"dir":"d"},{"i":14,"v":-0.288,"dir":"g"},{"i":15,"v":-0.203,"dir":"d"},{"i":16,"v":-0.096,"dir":"d"},{"i":17,"v":-0.224,"dir":"g"},{"i":18,"v":-0.245,"dir":"g"},{"i":19,"v":-0.299,"dir":"g"},{"i":20,"v":-0.267,"dir":"d"},{"i":21,"v":-0.203,"dir":"d"},{"i":22,"v":-0.171,"dir":"d"},{"i":23,"v":-0.192,"dir":"g"},{"i":24,"v":-0.149,"dir":"d"},{"i":25,"v":-0.085,"dir":"d"},{"i":26,"v":-0.043,"dir":"d"},{"i":27,"v":-0.053,"dir":"g"},{"i":28,"v":-0.085,"dir":"g"},{"i":29,"v":-0.075,"dir":"d"},{"i":30,"v":-0.028,"dir":"d"},{"i":31,"v":-0.011,"dir":"g"},{"i":32,"v":-0.075,"dir":"g"},{"i":33,"v":-0.107,"dir":"g"},{"i":34,"v":-0.16,"dir":"g"},{"i":35,"v":-0.171,"dir":"g"},{"i":36,"v":-0.171,"dir":"d"},{"i":37,"v":-0.203,"dir":"g"},{"i":38,"v":-0.277,"dir":"g"},{"i":39,"v":-0.341,"dir":"g"},{"i":40,"v":-0.341,"dir":"g"},{"i":41,"v":-0.341,"dir":"d"},{"i":42,"v":-0.32,"dir":"d"},{"i":43,"v":-0.299,"dir":"d"},{"i":44,"v":-0.277,"dir":"d"},{"i":45,"v":-0.256,"dir":"d"},{"i":46,"v":-0.224,"dir":"d"},{"i":47,"v":-0.213,"dir":"d"},{"i":48,"v":-0.192,"dir":"d"},{"i":49,"v":-0.139,"dir":"d"},{"i":50,"v":-0.117,"dir":"d"},{"i":51,"v":-0.107,"dir":"d"},{"i":52,"v":-0.075,"dir":"d"},{"i":53,"v":-0.021,"dir":"d"},{"i":54,"v":-0.021,"dir":"g"},{"i":55,"v":-0.004,"dir":"g"},{"i":56,"v":-0.007,"dir":"d"},{"i":57,"v":-0.021,"dir":"g"},{"i":58,"v":-0.053,"dir":"g"},{"i":59,"v":-0.107,"dir":"g"},{"i":60,"v":-0.192,"dir":"g"},{"i":61,"v":-0.235,"dir":"g"},{"i":62,"v":-0.224,"dir":"d"},{"i":63,"v":-0.224,"dir":"d"},{"i":64,"v":-0.192,"dir":"d"},{"i":65,"v":-0.117,"dir":"d"},{"i":66,"v":-0.053,"dir":"d"},{"i":67,"v":-0.043,"dir":"d"},{"i":68,"v":-0.032,"dir":"d"},{"i":69,"v":-0.004,"dir":"g"},{"i":70,"v":-0.007,"dir":"g"},{"i":71,"v":-0.032,"dir":"g"},{"i":72,"v":-0.064,"dir":"g"},{"i":73,"v":-0.064,"dir":"g"},{"i":74,"v":-0.075,"dir":"g"},{"i":75,"v":-0.064,"dir":"d"},{"i":76,"v":-0.043,"dir":"d"},{"i":77,"v":-0.028,"dir":"d"},{"i":78,"v":-0.014,"dir":"d"},{"i":79,"v":-0.011,"dir":"d"},{"i":80,"v":-0.032,"dir":"g"},{"i":81,"v":-0.064,"dir":"g"},{"i":82,"v":-0.032,"dir":"d"},{"i":83,"v":-0.007,"dir":"d"},{"i":84,"v":-0.004,"dir":"g"},{"i":85,"v":-0.007,"dir":"g"},{"i":86,"v":-0.011,"dir":"g"},{"i":87,"v":-0.032,"dir":"g"},{"i":88,"v":-0.096,"dir":"g"},{"i":89,"v":-0.139,"dir":"g"},{"i":90,"v":-0.149,"dir":"g"},{"i":91,"v":-0.139,"dir":"d"},{"i":92,"v":-0.149,"dir":"g"},{"i":93,"v":-0.128,"dir":"d"},{"i":94,"v":-0.128,"dir":"d"},{"i":95,"v":-0.117,"dir":"d"},{"i":96,"v":-0.181,"dir":"g"},{"i":97,"v":-0.235,"dir":"g"},{"i":98,"v":-0.256,"dir":"g"},{"i":99,"v":-0.235,"dir":"d"},{"i":100,"v":-0.181,"dir":"d"},{"i":101,"v":-0.203,"dir":"g"},{"i":102,"v":-0.224,"dir":"g"},{"i":103,"v":-0.277,"dir":"g"},{"i":104,"v":-0.267,"dir":"d"},{"i":105,"v":-0.267,"dir":"d"},{"i":106,"v":-0.235,"dir":"g"},{"i":107,"v":-0.245,"dir":"g"},{"i":108,"v":-0.235,"dir":"g"},{"i":109,"v":-0.224,"dir":"d"},{"i":110,"v":-0.203,"dir":"d"},{"i":111,"v":-0.203,"dir":"d"},{"i":112,"v":-0.192,"dir":"d"},{"i":113,"v":-0.203,"dir":"g"},{"i":114,"v":-0.235,"dir":"g"},{"i":115,"v":-0.288,"dir":"g"},{"i":116,"v":-0.33,"dir":"g"},{"i":117,"v":-0.352,"dir":"g"},{"i":118,"v":-0.341,"dir":"d"},{"i":119,"v":-0.33,"dir":"d"},{"i":120,"v":-0.384,"dir":"g"},{"i":121,"v":-0.362,"dir":"d"},{"i":122,"v":-0.256,"dir":"d"},{"i":123,"v":-0.224,"dir":"d"},{"i":124,"v":-0.224,"dir":"g"},{"i":125,"v":-0.245,"dir":"g"},{"i":126,"v":-0.245,"dir":"g"},{"i":127,"v":-0.224,"dir":"d"},{"i":128,"v":-0.171,"dir":"d"},{"i":129,"v":-0.107,"dir":"d"},{"i":130,"v":-0.075,"dir":"d"},{"i":131,"v":-0.064,"dir":"d"},{"i":132,"v":-0.053,"dir":"d"},{"i":133,"v":-0.021,"dir":"d"},{"i":134,"v":-0.011,"dir":"d"},{"i":135,"v":-0.004,"dir":"d"},{"i":136,"v":-0.053,"dir":"g"},{"i":137,"v":-0.117,"dir":"g"},{"i":138,"v":-0.16,"dir":"g"},{"i":139,"v":-0.171,"dir":"g"},{"i":140,"v":-0.149,"dir":"d"},{"i":141,"v":-0.128,"dir":"d"},{"i":142,"v":-0.114,"dir":"d"}
    ]
  },
  "vconcat": [
    {
      "width": 1236,
      "height": 472,
      "layer": [
        {
          "data": {"name": "candles"},
          "mark": {"type": "rule", "color": "black", "strokeWidth": 1},
          "encoding": {
            "x": {"field": "i", "type": "quantitative", "scale": {"domain": [-0.041, 154.46], "nice": false, "zero": false},
                  "axis": {"values": [4,8,12,16,20,24,28,32,36,40,44,48,52,56,60,64,68,72,76,80,84,88,92,96,100,104,108,112,116,120,124,128,132,136,140,144,148,152], "grid": true, "labels": false, "ticks": false, "domain": false, "title": null}},
            "y": {"field": "l", "type": "quantitative", "scale": {"domain": [73.809, 77.113], "nice": false, "zero": false},
                  "axis": {"orient": "right", "values": [74.05,74.3,74.55,74.8,75.05,75.3,75.55,75.8,76.05,76.3,76.55,76.8,77.05], "format": ".2f", "grid": true, "title": null, "tickSize": 4, "labelPadding": 2}},
            "y2": {"field": "h"}
          }
        },
        {
          "data": {"name": "candles"},
          "mark": {"type": "bar", "stroke": "black", "strokeWidth": 1},
          "encoding": {
            "x": {"field": "i", "type": "quantitative", "scale": {"domain": [-0.041, 154.46], "nice": false, "zero": false}},
            "y": {"field": "o", "type": "quantitative", "scale": {"domain": [73.809, 77.113], "nice": false, "zero": false}},
            "y2": {"field": "c"},
            "size": {"value": 4},
            "fill": {"condition": {"test": "datum.c >= datum.o", "value": "white"}, "value": "black"}
          }
        },
        {
          "data": {"name": "lines"},
          "mark": {"type": "line", "strokeWidth": 2},
          "encoding": {
            "x": {"field": "i", "type": "quantitative", "scale": {"domain": [-0.041, 154.46], "nice": false, "zero": false}},
            "y": {"field": "v", "type": "quantitative", "scale": {"domain": [73.809, 77.113], "nice": false, "zero": false}},
            "color": {"field": "s", "type": "nominal", "scale": {"domain": ["jaw", "teeth", "lips", "g", "d"], "range": ["#0a4fd6", "#ff0000", "#00ee00", "#008000", "#ff0000"]}, "legend": null}
          }
        },
        {
          "data": {"values": [{}]},
          "mark": {"type": "rule", "color": "#c00000", "strokeWidth": 1},
          "encoding": {
            "y": {"datum": 76.10, "type": "quantitative", "scale": {"domain": [73.809, 77.113], "nice": false, "zero": false}}
          }
        },
        {
          "data": {"name": "fractals"},
          "transform": [{"filter": "datum.t == 'up'"}],
          "mark": {"type": "point", "shape": "M0,-1L0.75,0.9L0,0.4L-0.75,0.9Z", "filled": true, "fill": "#a9a9a9", "stroke": "#6f6f6f", "strokeWidth": 0.6, "size": 120, "opacity": 1, "yOffset": -10},
          "encoding": {
            "x": {"field": "i", "type": "quantitative", "scale": {"domain": [-0.041, 154.46], "nice": false, "zero": false}},
            "y": {"field": "p", "type": "quantitative", "scale": {"domain": [73.809, 77.113], "nice": false, "zero": false}}
          }
        },
        {
          "data": {"name": "fractals"},
          "transform": [{"filter": "datum.t == 'down'"}],
          "mark": {"type": "point", "shape": "M0,1L0.75,-0.9L0,-0.4L-0.75,-0.9Z", "filled": true, "fill": "#a9a9a9", "stroke": "#6f6f6f", "strokeWidth": 0.6, "size": 120, "opacity": 1, "yOffset": 10},
          "encoding": {
            "x": {"field": "i", "type": "quantitative", "scale": {"domain": [-0.041, 154.46], "nice": false, "zero": false}},
            "y": {"field": "p", "type": "quantitative", "scale": {"domain": [73.809, 77.113], "nice": false, "zero": false}}
          }
        },
        {
          "data": {"name": "signals"},
          "transform": [{"filter": "datum.t == 'buy'"}],
          "mark": {"type": "point", "shape": "M0,-1L0.62,-0.1L0.3,-0.1L0.3,0.95L-0.3,0.95L-0.3,-0.1L-0.62,-0.1Z", "filled": true, "fill": "#f2fff2", "stroke": "#3ccc3c", "strokeWidth": 1.3, "size": 380, "opacity": 1},
          "encoding": {
            "x": {"field": "i", "type": "quantitative", "scale": {"domain": [-0.041, 154.46], "nice": false, "zero": false}},
            "y": {"field": "p", "type": "quantitative", "scale": {"domain": [73.809, 77.113], "nice": false, "zero": false}}
          }
        },
        {
          "data": {"name": "signals"},
          "transform": [{"filter": "datum.t == 'sell'"}],
          "mark": {"type": "point", "shape": "M0,1L0.62,0.1L0.3,0.1L0.3,-0.95L-0.3,-0.95L-0.3,0.1L-0.62,0.1Z", "filled": true, "fill": "#fff2f2", "stroke": "#ff4040", "strokeWidth": 1.3, "size": 380, "opacity": 1},
          "encoding": {
            "x": {"field": "i", "type": "quantitative", "scale": {"domain": [-0.041, 154.46], "nice": false, "zero": false}},
            "y": {"field": "p", "type": "quantitative", "scale": {"domain": [73.809, 77.113], "nice": false, "zero": false}}
          }
        },
        {
          "data": {"values": [{}]},
          "mark": {"type": "rect", "color": "#c80000"},
          "encoding": {
            "x": {"datum": 154.58, "type": "quantitative", "scale": {"domain": [-0.041, 154.46], "nice": false, "zero": false}},
            "x2": {"datum": 158.35},
            "y": {"datum": 76.14, "type": "quantitative", "scale": {"domain": [73.809, 77.113], "nice": false, "zero": false}},
            "y2": {"datum": 76.068}
          }
        },
        {
          "data": {"values": [{}]},
          "mark": {"type": "text", "color": "white", "font": "Liberation Sans", "fontSize": 9.5, "align": "center", "baseline": "middle"},
          "encoding": {
            "x": {"datum": 156.46, "type": "quantitative", "scale": {"domain": [-0.041, 154.46], "nice": false, "zero": false}},
            "y": {"datum": 76.104, "type": "quantitative", "scale": {"domain": [73.809, 77.113], "nice": false, "zero": false}},
            "text": {"value": "76.10"}
          }
        }
      ]
    },
    {
      "width": 1236,
      "height": 99,
      "title": {"text": "AOcust -0.293", "anchor": "start", "frame": "group", "offset": -13, "dx": 5},
      "data": {"name": "ao"},
      "mark": {"type": "bar"},
      "encoding": {
        "x": {"field": "i", "type": "quantitative", "scale": {"domain": [-0.041, 154.46], "nice": false, "zero": false},
              "axis": {"values": [4,8,12,16,20,24,28,32,36,40,44,48,52,56,60,64,68,72,76,80,84,88,92,96,100,104,108,112,116,120,124,128,132,136,140,144,148,152], "grid": true, "labels": false, "ticks": false, "domain": false, "title": null}},
        "y": {"field": "v", "type": "quantitative", "scale": {"domain": [-1.019, 1.181], "nice": false, "zero": false},
              "axis": {"orient": "right", "values": [-1.019, 0, 1.181], "format": ".3f", "grid": true, "gridOpacity": {"condition": {"test": "datum.value === 0", "value": 1}, "value": 0}, "title": null, "tickSize": 4, "labelFlush": true, "labelPadding": 2}},
        "y2": {"datum": 0},
        "size": {"value": 4},
        "color": {"field": "dir", "type": "nominal", "scale": {"domain": ["jaw", "teeth", "lips", "g", "d"], "range": ["#0a4fd6", "#ff0000", "#00ee00", "#008000", "#ff0000"]}, "legend": null}
      }
    },
    {
      "width": 1236,
      "height": 99,
      "title": {"text": "ACcust -0.1357", "anchor": "start", "frame": "group", "offset": -13, "dx": 5},
      "data": {"name": "ac"},
      "mark": {"type": "bar"},
      "encoding": {
        "x": {"field": "i", "type": "quantitative", "scale": {"domain": [-0.041, 154.46], "nice": false, "zero": false},
              "axis": {"values": [4,8,12,16,20,24,28,32,36,40,44,48,52,56,60,64,68,72,76,80,84,88,92,96,100,104,108,112,116,120,124,128,132,136,140,144,148,152], "grid": true, "labels": false, "ticks": false, "domain": false, "title": null}},
        "y": {"field": "v", "type": "quantitative", "scale": {"domain": [-0.2839, 0.5925], "nice": false, "zero": false},
              "axis": {"orient": "right", "values": [-0.2839, 0, 0.5925], "format": ".4f", "grid": true, "gridOpacity": {"condition": {"test": "datum.value === 0", "value": 1}, "value": 0}, "title": null, "tickSize": 4, "labelFlush": true, "labelPadding": 2}},
        "y2": {"datum": 0},
        "size": {"value": 4},
        "color": {"field": "dir", "type": "nominal", "scale": {"domain": ["jaw", "teeth", "lips", "g", "d"], "range": ["#0a4fd6", "#ff0000", "#00ee00", "#008000", "#ff0000"]}, "legend": null}
      }
    },
    {
      "width": 1236,
      "height": 99,
      "title": {"text": "GatorCust 0.044 -0.125", "anchor": "start", "frame": "group", "offset": -13, "dx": 5},
      "layer": [
        {
          "data": {"name": "gatorUp"},
          "mark": {"type": "bar"},
          "encoding": {
            "x": {"field": "i", "type": "quantitative", "scale": {"domain": [-0.041, 154.46], "nice": false, "zero": false},
                  "axis": {"values": [0,4,8,12,16,20,24,28,32,36,40,44,48,52,56,60,64,68,72,76,80,84,88,92,96,100,104,108,112,116,120,124,128,132,136,140,144,148,152], "grid": true, "domain": false, "title": null,
                           "labelExpr": "datum.value % 8 === 0 && datum.value <= 136 ? ['4 Feb 2025','4 Feb 12:00','4 Feb 20:00','5 Feb 07:00','5 Feb 15:00','5 Feb 23:00','6 Feb 10:00','6 Feb 18:00','7 Feb 05:00','7 Feb 13:00','7 Feb 21:00','10 Feb 06:00','10 Feb 14:00','10 Feb 22:00','11 Feb 09:00','11 Feb 17:00','12 Feb 04:00','12 Feb 12:00'][datum.value / 8] : ''",
                           "labelAlign": "left", "labelBaseline": "top", "labelPadding": -1, "tickSize": 3, "labelOverlap": false, "labelBound": false, "labelFlush": false,
                           "tickOpacity": {"condition": {"test": "datum.value % 8 === 0 && datum.value <= 136", "value": 1}, "value": 0},
                           "gridOpacity": {"condition": {"test": "datum.value > 0", "value": 1}, "value": 0}}},
            "y": {"field": "v", "type": "quantitative", "scale": {"domain": [-0.48, 0.575], "nice": false, "zero": false},
                  "axis": {"orient": "right", "values": [-0.48, 0, 0.575], "format": ".3f", "grid": true, "gridOpacity": {"condition": {"test": "datum.value === 0", "value": 1}, "value": 0}, "title": null, "tickSize": 4, "labelFlush": true, "labelPadding": 2}},
            "y2": {"datum": 0},
            "size": {"value": 4},
            "color": {"field": "dir", "type": "nominal", "scale": {"domain": ["jaw", "teeth", "lips", "g", "d"], "range": ["#0a4fd6", "#ff0000", "#00ee00", "#008000", "#ff0000"]}, "legend": null}
          }
        },
        {
          "data": {"name": "gatorDown"},
          "mark": {"type": "bar"},
          "encoding": {
            "x": {"field": "i", "type": "quantitative", "scale": {"domain": [-0.041, 154.46], "nice": false, "zero": false}},
            "y": {"field": "v", "type": "quantitative", "scale": {"domain": [-0.48, 0.575], "nice": false, "zero": false}},
            "y2": {"datum": 0},
            "size": {"value": 4},
            "color": {"field": "dir", "type": "nominal", "scale": {"domain": ["jaw", "teeth", "lips", "g", "d"], "range": ["#0a4fd6", "#ff0000", "#00ee00", "#008000", "#ff0000"]}, "legend": null}
          }
        }
      ]
    }
  ]
}
